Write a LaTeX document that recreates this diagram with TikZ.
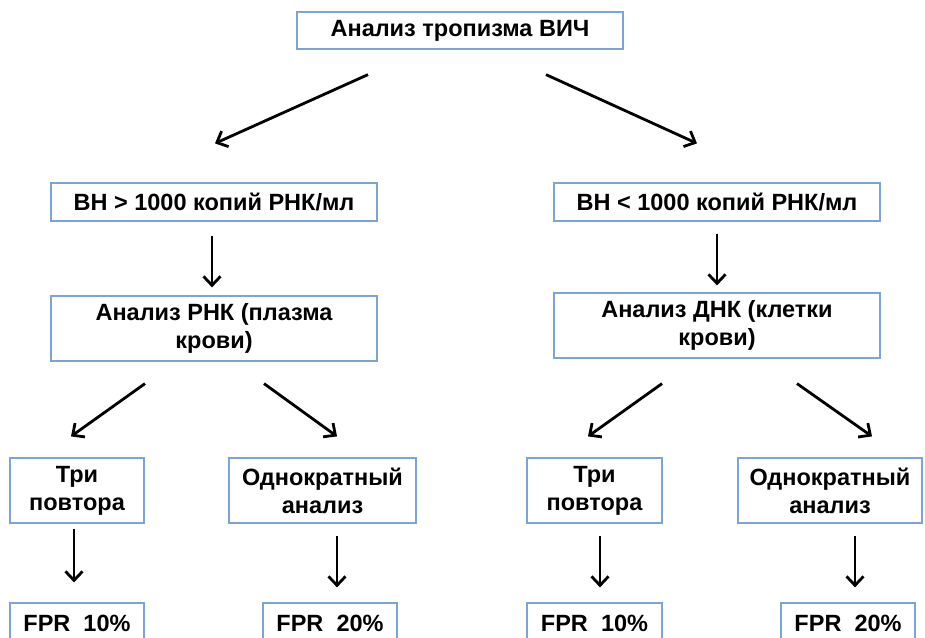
\documentclass[tikz,border=0pt]{standalone}
\usepackage{fontspec}
\setmainfont{Liberation Sans}
\usepackage[HTML]{xcolor}
\usepackage{tikz}
\usetikzlibrary{positioning, arrows, arrows.meta}

\definecolor{boxline}{HTML}{7DA4D6}

\begin{document}
\begin{tikzpicture}[x=1pt,y=-1pt,>={Straight Barb[length=9pt,width=17pt]},
  box/.style={draw=boxline, line width=1.2pt, align=center, inner sep=0pt,
    font=\fontsize{23.5}{28}\selectfont\bfseries},
  arr/.style={->, line width=2.8pt}]

\useasboundingbox (0,0) rectangle (925,637);
\clip (0,0) rectangle (925,637);

% Nodes
\node[box, minimum width=326pt, minimum height=37pt] (top) at (460,30.5) {Анализ тропизма ВИЧ};
\node[box, minimum width=326pt, minimum height=38pt] (bhL) at (214,202) {ВН > 1000 копий РНК/мл};
\node[box, minimum width=326pt, minimum height=38pt] (bhR) at (717,202) {ВН < 1000 копий РНК/мл};
\node[box, minimum width=326pt, minimum height=65pt] (rnk) at (214,328.5) {Анализ РНК (плазма\\крови)};
\node[box, minimum width=326pt, minimum height=65pt] (dnk) at (717,325.5) {Анализ ДНК (клетки\\крови)};
\node[box, minimum width=134pt, minimum height=65pt] (triL) at (77,490.5) {Три\\повтора};
\node[box, minimum width=187pt, minimum height=65pt] (oneL) at (322.5,490.5) {Однократный\\анализ};
\node[box, minimum width=135pt, minimum height=65pt] (triR) at (594.5,490.5) {Три\\повтора};
\node[box, minimum width=184pt, minimum height=65pt] (oneR) at (830,490.5) {Однократный\\анализ};
\node[box, minimum width=134pt, minimum height=40pt] (fprL1) at (77,623) {FPR\ \ 10\%};
\node[box, minimum width=134pt, minimum height=40pt] (fprL2) at (330,623) {FPR\ \ 20\%};
\node[box, minimum width=135pt, minimum height=40pt] (fprR1) at (594.5,623) {FPR\ \ 10\%};
\node[box, minimum width=134pt, minimum height=40pt] (fprR2) at (848,623) {FPR\ \ 20\%};

% Arrows
\draw[arr] ([xshift=-92pt,yshift=-25pt]top.south) -- ([xshift=1pt,yshift=39pt]bhL.north);
\draw[arr] ([xshift=86pt,yshift=-25pt]top.south) -- ([xshift=-20pt,yshift=39pt]bhR.north);
\draw[arr] ([xshift=-2pt,yshift=-14pt]bhL.south) -- ([xshift=-2pt,yshift=8pt]rnk.north);
\draw[arr] ([yshift=-12pt]bhR.south) -- ([yshift=7pt]dnk.north);
\draw[arr] ([xshift=-69pt,yshift=-22pt]rnk.south) -- ([xshift=-6pt,yshift=21pt]triL.north);
\draw[arr] ([xshift=50pt,yshift=-22pt]rnk.south) -- ([xshift=14.5pt,yshift=21pt]oneL.north);
\draw[arr] ([xshift=-55pt,yshift=-25pt]dnk.south) -- ([xshift=-6.5pt,yshift=21pt]triR.north);
\draw[arr] ([xshift=80pt,yshift=-25pt]dnk.south) -- ([xshift=42pt,yshift=21pt]oneR.north);
\draw[arr] ([xshift=-3pt,yshift=-5pt]triL.south) -- ([xshift=-3pt,yshift=20pt]fprL1.north);
\draw[arr] ([xshift=14.5pt,yshift=-12pt]oneL.south) -- ([xshift=7pt,yshift=15pt]fprL2.north);
\draw[arr] ([xshift=5.5pt,yshift=-12pt]triR.south) -- ([xshift=5.5pt,yshift=15pt]fprR1.north);
\draw[arr] ([xshift=25pt,yshift=-12pt]oneR.south) -- ([xshift=7pt,yshift=15pt]fprR2.north);

\end{tikzpicture}
\end{document}
